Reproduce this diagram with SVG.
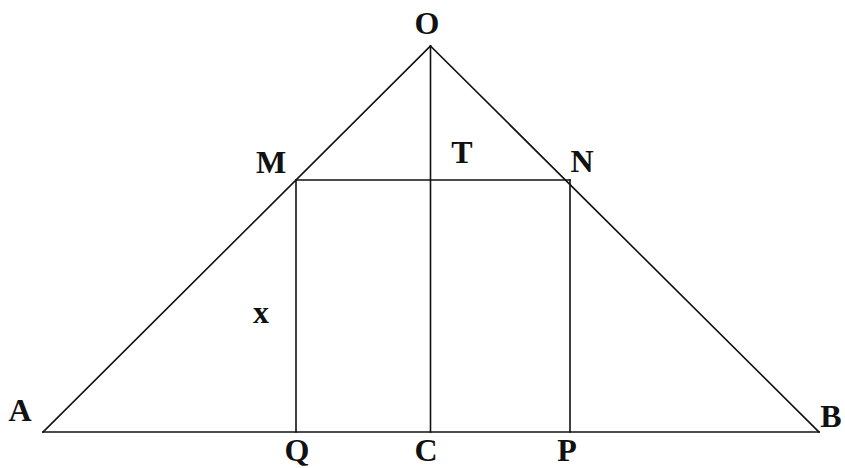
<svg xmlns="http://www.w3.org/2000/svg" width="845" height="468" viewBox="0 0 845 468">
<style>
.ln{stroke:#111;stroke-width:1.6;fill:none;stroke-linecap:square}
.lb{font-family:"Liberation Serif","Times New Roman",serif;font-size:32px;font-weight:bold;fill:#111;text-anchor:middle}
</style>
<rect width="845" height="468" fill="#fff"/>
<g id="connectors">
<line class="ln" x1="43" y1="432" x2="430.5" y2="46"/>
<line class="ln" x1="430.5" y1="46" x2="819" y2="432"/>
<line class="ln" x1="43" y1="432" x2="819" y2="432"/>
<line class="ln" x1="430.5" y1="46" x2="430.5" y2="432"/>
<line class="ln" x1="296" y1="180" x2="570" y2="180"/>
<line class="ln" x1="296" y1="180" x2="296" y2="432"/>
<line class="ln" x1="570" y1="180" x2="570" y2="432"/>
</g>
<g id="O"><text class="lb" x="427" y="34">O</text></g>
<g id="M"><text class="lb" x="271" y="173">M</text></g>
<g id="T"><text class="lb" x="462" y="163">T</text></g>
<g id="N"><text class="lb" x="582" y="172">N</text></g>
<g id="x"><text class="lb" x="261" y="323">x</text></g>
<g id="A"><text class="lb" x="20" y="421">A</text></g>
<g id="B"><text class="lb" x="831" y="427">B</text></g>
<g id="Q"><text class="lb" x="297" y="461">Q</text></g>
<g id="C"><text class="lb" x="426" y="461">C</text></g>
<g id="P"><text class="lb" x="567" y="461">P</text></g>
</svg>
